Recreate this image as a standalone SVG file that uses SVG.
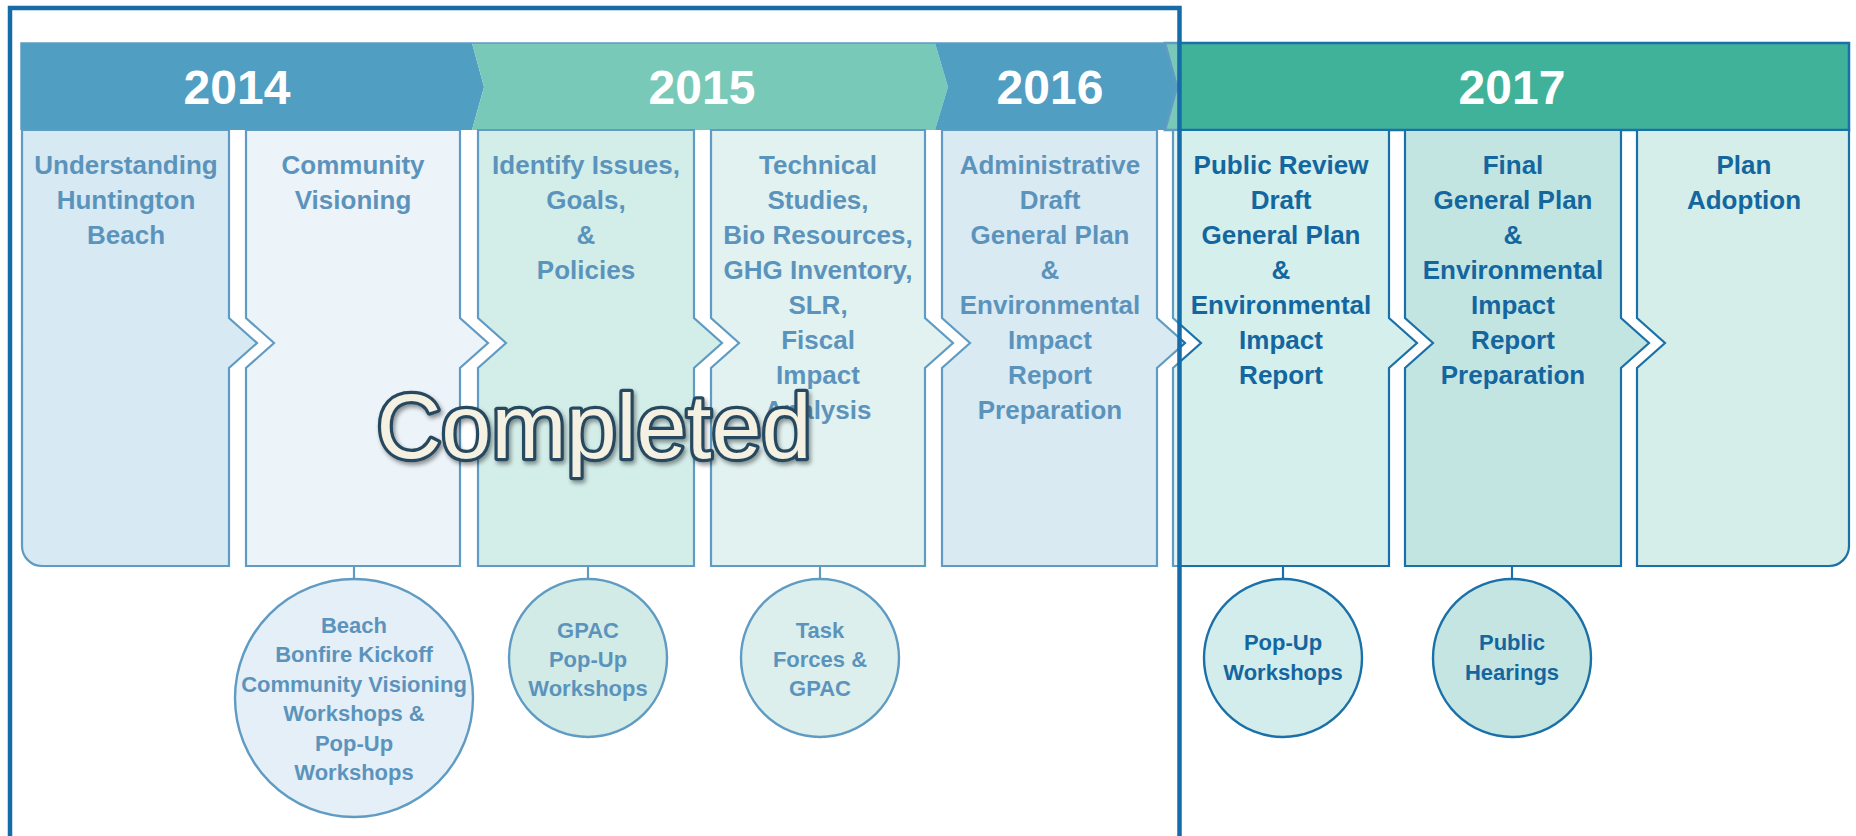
<svg xmlns="http://www.w3.org/2000/svg" width="1856" height="836" viewBox="0 0 1856 836">
<defs>
<style>
text{font-family:'Liberation Sans',Arial,Helvetica,sans-serif}
.yr{font-weight:bold;font-size:48px;fill:#ffffff;text-anchor:middle}
.st{font-weight:bold;font-size:26px;fill:#14669f;text-anchor:middle}
.ev{font-weight:bold;font-size:22px;fill:#14669f;text-anchor:middle}
.col{stroke:#1a70a8;stroke-width:2.2}
.evc{stroke:#1a70a8;stroke-width:2.4}
.conn{stroke:#1a70a8;stroke-width:2.2;fill:none}
.blue{fill:#0674a9}
.green{fill:#40b29a}
</style>
<filter id="sh" x="-10%" y="-30%" width="125%" height="170%">
<feDropShadow dx="2" dy="3" stdDeviation="2" flood-color="#000000" flood-opacity="0.4"/>
</filter>
</defs>
<rect width="1856" height="836" fill="#ffffff"/>

<g id="banner">
<g id="y2014"><polygon class="blue" points="21,43 472,43 484,87 472,130 21,130"/><text class="yr" x="237" y="104">2014</text></g>
<g id="y2015"><polygon class="green" points="472,43 935,43 948,87 935,130 472,130 484,87"/><text class="yr" x="702" y="104">2015</text></g>
<g id="y2016"><polygon class="blue" points="935,43 1165,43 1177,87 1165,130 935,130 948,87"/><text class="yr" x="1050" y="104">2016</text></g>
<g id="y2017"><polygon class="green" points="1165,43 1849,43 1849,130 1165,130 1177,87" stroke="#1a70a8" stroke-width="2.5"/><text class="yr" x="1512" y="104">2017</text></g>
<path d="M21,130 V43 H1165" fill="none" stroke="#1a70a8" stroke-width="1.5"/>
</g>

<g id="stage1">
<path class="col" fill="#c6e0ec" d="M22,130 H229 V318 L257,343 L229,368 V566 H42 A20,20 0 0 1 22,546 Z"/>
<text class="st" x="126" y="174">Understanding</text>
<text class="st" x="126" y="209">Huntington</text>
<text class="st" x="126" y="244">Beach</text>
</g>
<g id="stage2">
<path class="col" fill="#e4eef6" d="M246,130 H460 V318 L488,343 L460,368 V566 H246 V368 L274,343 L246,318 Z"/>
<text class="st" x="353" y="174">Community</text>
<text class="st" x="353" y="209">Visioning</text>
</g>
<g id="stage3">
<path class="col" fill="#c0e5e0" d="M478,130 H694 V318 L722,343 L694,368 V566 H478 V368 L506,343 L478,318 Z"/>
<text class="st" x="586" y="174">Identify Issues,</text>
<text class="st" x="586" y="209">Goals,</text>
<text class="st" x="586" y="244">&amp;</text>
<text class="st" x="586" y="279">Policies</text>
</g>
<g id="stage4">
<path class="col" fill="#d4eceb" d="M711,130 H925 V318 L953,343 L925,368 V566 H711 V368 L739,343 L711,318 Z"/>
<text class="st" x="818" y="174">Technical</text>
<text class="st" x="818" y="209">Studies,</text>
<text class="st" x="818" y="244">Bio Resources,</text>
<text class="st" x="818" y="279">GHG Inventory,</text>
<text class="st" x="818" y="314">SLR,</text>
<text class="st" x="818" y="349">Fiscal</text>
<text class="st" x="818" y="384">Impact</text>
<text class="st" x="818" y="419">Analysis</text>
</g>
<g id="stage5">
<path class="col" fill="#c9e1ee" d="M942,130 H1157 V318 L1185,343 L1157,368 V566 H942 V368 L970,343 L942,318 Z"/>
<text class="st" x="1050" y="174">Administrative</text>
<text class="st" x="1050" y="209">Draft</text>
<text class="st" x="1050" y="244">General Plan</text>
<text class="st" x="1050" y="279">&amp;</text>
<text class="st" x="1050" y="314">Environmental</text>
<text class="st" x="1050" y="349">Impact</text>
<text class="st" x="1050" y="384">Report</text>
<text class="st" x="1050" y="419">Preparation</text>
</g>
<g id="stage6">
<path class="col" fill="#d5efec" d="M1173,130 H1389 V318 L1417,343 L1389,368 V566 H1173 V368 L1201,343 L1173,318 Z"/>
<text class="st" x="1281" y="174">Public Review</text>
<text class="st" x="1281" y="209">Draft</text>
<text class="st" x="1281" y="244">General Plan</text>
<text class="st" x="1281" y="279">&amp;</text>
<text class="st" x="1281" y="314">Environmental</text>
<text class="st" x="1281" y="349">Impact</text>
<text class="st" x="1281" y="384">Report</text>
</g>
<g id="stage7">
<path class="col" fill="#c3e5e2" d="M1405,130 H1621 V318 L1649,343 L1621,368 V566 H1405 V368 L1433,343 L1405,318 Z"/>
<text class="st" x="1513" y="174">Final</text>
<text class="st" x="1513" y="209">General Plan</text>
<text class="st" x="1513" y="244">&amp;</text>
<text class="st" x="1513" y="279">Environmental</text>
<text class="st" x="1513" y="314">Impact</text>
<text class="st" x="1513" y="349">Report</text>
<text class="st" x="1513" y="384">Preparation</text>
</g>
<g id="stage8">
<path class="col" fill="#d5eeea" d="M1637,130 H1849 V546 A20,20 0 0 1 1829,566 H1637 V368 L1665,343 L1637,318 Z"/>
<text class="st" x="1744" y="174">Plan</text>
<text class="st" x="1744" y="209">Adoption</text>
</g>

<g id="connectors">
<line class="conn" x1="354" y1="566" x2="354" y2="579"/>
<line class="conn" x1="588" y1="566" x2="588" y2="579"/>
<line class="conn" x1="820" y1="566" x2="820" y2="579"/>
<line class="conn" x1="1283" y1="566" x2="1283" y2="579"/>
<line class="conn" x1="1512" y1="566" x2="1512" y2="579"/>
</g>

<g id="event1">
<circle class="evc" cx="354" cy="698" r="119" fill="#d8e8f4"/>
<text class="ev" x="354" y="633">Beach</text>
<text class="ev" x="354" y="662">Bonfire Kickoff</text>
<text class="ev" x="354" y="692">Community Visioning</text>
<text class="ev" x="354" y="721">Workshops &amp;</text>
<text class="ev" x="354" y="751">Pop-Up</text>
<text class="ev" x="354" y="780">Workshops</text>
</g>
<g id="event2">
<circle class="evc" cx="588" cy="658" r="79" fill="#c0e3dc"/>
<text class="ev" x="588" y="638">GPAC</text>
<text class="ev" x="588" y="667">Pop-Up</text>
<text class="ev" x="588" y="696">Workshops</text>
</g>
<g id="event3">
<circle class="evc" cx="820" cy="658" r="79" fill="#cde8e4"/>
<text class="ev" x="820" y="638">Task</text>
<text class="ev" x="820" y="667">Forces &amp;</text>
<text class="ev" x="820" y="696">GPAC</text>
</g>
<g id="event4">
<circle class="evc" cx="1283" cy="658" r="79" fill="#d3ecec"/>
<text class="ev" x="1283" y="650">Pop-Up</text>
<text class="ev" x="1283" y="680">Workshops</text>
</g>
<g id="event5">
<circle class="evc" cx="1512" cy="658" r="79" fill="#c5e5e3"/>
<text class="ev" x="1512" y="650">Public</text>
<text class="ev" x="1512" y="680">Hearings</text>
</g>

<rect id="fade" x="12" y="10" width="1165.5" height="830" fill="#ffffff" fill-opacity="0.3"/>
<rect id="completed-frame" x="10" y="8" width="1169.5" height="900" fill="none" stroke="#166ca8" stroke-width="4.5"/>
<text id="completed" x="594" y="458" text-anchor="middle" font-size="90" fill="#f4f0e2" stroke="#284a60" stroke-width="6.5" stroke-linejoin="round" paint-order="stroke" filter="url(#sh)">Completed</text>
</svg>
